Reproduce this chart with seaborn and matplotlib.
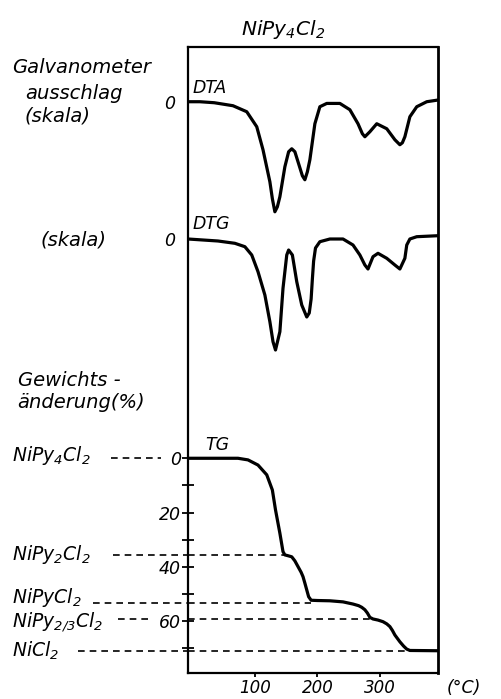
import matplotlib
matplotlib.use("Agg")
import pandas as pd
import matplotlib.pyplot as plt
import matplotlib.transforms as mtransforms
import seaborn as sns

sns.set_style("white")
plt.rcParams['font.family'] = ['DejaVu Sans']
plt.rcParams['font.style'] = 'italic'
plt.rcParams['mathtext.default'] = 'it'
plt.rcParams['text.color'] = 'black'
plt.rcParams['xtick.color'] = 'black'
plt.rcParams['ytick.color'] = 'black'

# DTA curve (temperature in degC, deflection in skala units)
dta_temp = [-7, 12, 35, 65, 87, 103, 113, 124, 128, 132, 136, 140, 148, 154, 159,
            164, 170, 176, 180, 184, 188, 192, 196, 204, 215, 236, 252, 265, 272,
            276, 284, 295, 311, 324, 332, 336, 340, 348, 359, 375, 393]
dta_skala = [0, 0, -0.1, -0.4, -1.0, -2.5, -4.8, -8.0, -9.7, -11.0, -10.5, -9.5, -6.5,
             -5.0, -4.7, -5.0, -6.2, -7.4, -7.8, -7.0, -5.8, -4.0, -2.2, -0.5, -0.17,
             -0.17, -0.8, -2.2, -3.2, -3.5, -3.0, -2.2, -2.7, -3.8, -4.3, -4.1, -3.5,
             -1.5, -0.5, 0, 0.17]

# DTG curve
dtg_temp = [-7, 41, 68, 84, 95, 105, 116, 124, 129, 133, 140, 145, 151, 154, 160,
            167, 175, 183, 187, 190, 192, 194, 197, 204, 220, 241, 257, 268, 276,
            281, 289, 297, 311, 324, 332, 340, 343, 348, 359, 393]
dtg_skala = [0, -0.2, -0.43, -0.77, -1.6, -3.27, -5.6, -8.27, -10.27, -11.1, -9.27,
             -4.93, -1.6, -1.1, -1.6, -4.27, -6.6, -7.8, -7.4, -6.0, -4.0, -2.2, -0.9,
             -0.27, 0, 0, -0.6, -1.6, -2.6, -3.0, -1.77, -1.43, -1.93, -2.6, -3.0,
             -1.93, -0.6, 0, 0.23, 0.33]

# TG curve (weight loss in %)
tg_temp = [-7, 73, 89, 105, 119, 128, 133, 140, 145, 148, 153, 159, 164, 169, 174,
           177, 180, 183, 186, 190, 200, 220, 241, 257, 266, 271, 276, 280, 284, 289,
           297, 305, 311, 316, 320, 324, 332, 338, 343, 348, 393]
tg_loss = [0, 0, 0.6, 2.5, 6.1, 11.7, 19, 27.6, 34.4, 35.6, 35.9, 36.3, 37.8, 39.9,
           42, 43.6, 46, 48.5, 51, 52.3, 52.4, 52.5, 52.9, 53.7, 54.3, 54.9, 55.8, 57,
           58.6, 59.2, 59.6, 60.2, 61, 62, 63.4, 65.1, 67.6, 69.2, 70.3, 70.8, 70.9]

# intermediate compounds
phase_labels = [r'NiPy$_4$Cl$_2$', r'NiPy$_2$Cl$_2$', r'NiPyCl$_2$',
                r'NiPy$_{2/3}$Cl$_2$', r'NiCl$_2$']
phase_loss = [0, 35.5, 53.2, 59.1, 70.9]
phase_end_temp = [-7, 148, 190, 289, 345]

tg_ticks = [0, 20, 40, 60]
tg_minor = [10, 30, 50, 70]
temp_ticks = [100, 200, 300]

W, H = 501, 699
fig = plt.figure(figsize=(W / 100, H / 100), dpi=100)
box = [188 / W, 1 - 673 / H, 250 / W, 626 / H]


def fx(px):
    return px / W


def fy(py):
    return 1 - py / H


ax = fig.add_axes(box)
ax_dta = fig.add_axes(box, sharex=ax)
ax_dtg = fig.add_axes(box, sharex=ax)

tg = pd.DataFrame({'temp': tg_temp, 'loss': tg_loss})
dta = pd.DataFrame({'temp': dta_temp, 'skala': dta_skala})
dtg = pd.DataFrame({'temp': dtg_temp, 'skala': dtg_skala})

sns.lineplot(data=tg, x='temp', y='loss', ax=ax, color='black', lw=2.3,
             sort=False, estimator=None)
sns.lineplot(data=dta, x='temp', y='skala', ax=ax_dta, color='black', lw=2.3,
             sort=False, estimator=None)
sns.lineplot(data=dtg, x='temp', y='skala', ax=ax_dtg, color='black', lw=2.3,
             sort=False, estimator=None)

ax.set_xlim(-7, 393)
ax.set_ylim(79.1, -151.5)
ax_dta.set_ylim(-57.1, 5.47)
ax_dtg.set_ylim(-43.4, 19.2)

for a in (ax_dta, ax_dtg):
    a.patch.set_alpha(0)
    for s in a.spines.values():
        s.set_visible(False)
    a.set_xlabel('')
    a.set_ylabel('')
    a.set_yticks([0])
    a.set_yticklabels(['0'], fontsize=12.5)
    a.tick_params(axis='y', direction='out', length=7, width=1.3, pad=2)
    a.tick_params(axis='x', bottom=False, labelbottom=False)

for s in ax.spines.values():
    s.set_linewidth(1.6)
    s.set_color('black')
ax.spines['right'].set_linewidth(2.0)
ax.set_xlabel('')
ax.set_ylabel('')
ax.set_yticks(tg_ticks)
ax.set_yticks(tg_minor, minor=True)
ax.set_yticklabels([str(t) for t in tg_ticks], fontsize=12.5)
ax.set_xticks(temp_ticks)
ax.set_xticklabels([str(t) for t in temp_ticks], fontsize=12)
ax.tick_params(axis='y', which='both', direction='inout', length=8, width=1.3,
               left=True, pad=1)
ax.tick_params(axis='x', direction='out', length=3, width=1.3, bottom=True, pad=1)

# dashed level lines for the intermediate compounds
dash_start = [-0.31, -0.30, -0.38, -0.28, -0.44]
dash_stop = [-0.11, 0, 0, -0.15, 0]
label_shift = [3, 0, 5, -3, 0]
ytr = ax.get_yaxis_transform()
for lab, loss, t_end, x0, x1, dy in zip(phase_labels, phase_loss, phase_end_temp,
                                        dash_start, dash_stop, label_shift):
    ax.plot([x0, x1], [loss, loss], transform=ytr, clip_on=False, color='black',
            lw=1.2, ls=(0, (4, 3)))
    if t_end > -7:
        ax.plot([-7, t_end], [loss, loss], color='black', lw=1.2, ls=(0, (4, 3)))
    tr = mtransforms.offset_copy(ytr, fig=fig, y=dy, units='dots')
    ax.text(-0.705, loss, lab, transform=tr, ha='left', va='center', fontsize=13.5)

ax.text(0.02, -133, 'DTA', transform=ytr, fontsize=12.5, va='bottom')
ax.text(0.02, -83, 'DTG', transform=ytr, fontsize=12.5, va='bottom')
ax.text(0.07, -1.5, 'TG', transform=ytr, fontsize=12.5, va='bottom')

fig.text(fx(283), fy(35), r'NiPy$_4$Cl$_2$', ha='center', va='baseline', fontsize=14.5)
fig.text(fx(12), fy(73), 'Galvanometer', fontsize=14, va='baseline')
fig.text(fx(25), fy(99), 'ausschlag', fontsize=14, va='baseline')
fig.text(fx(25), fy(121), '(skala)', fontsize=14, va='baseline')
fig.text(fx(40), fy(246), '(skala)', fontsize=14, va='baseline')
fig.text(fx(18), fy(386), 'Gewichts -', fontsize=14, va='baseline')
fig.text(fx(17), fy(408), 'änderung(%)', fontsize=14, va='baseline')
fig.text(fx(447), fy(693), '(°C)', fontsize=12.5, va='baseline')

fig.savefig('out.png', dpi=100)
